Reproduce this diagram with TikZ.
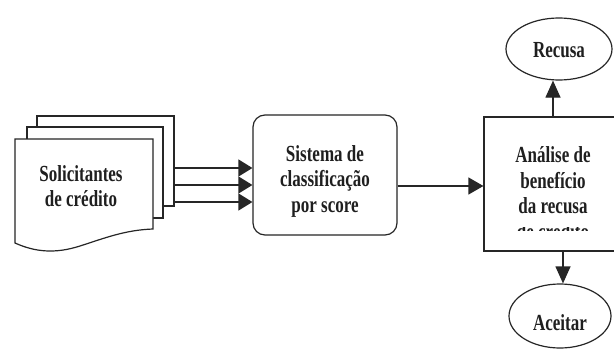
\documentclass[tikz,border=0pt]{standalone}
\usepackage{fontspec}
\setmainfont{Liberation Serif}
\newfontfamily\lab{Liberation Serif}[FakeStretch=0.74]
\usetikzlibrary{arrows.meta,shapes.geometric}
\tikzset{
  ln/.style={draw=black!85, line width=1.2pt},
  arrA/.style={ln, -{Triangle[length=14pt,width=17pt]}},
  arrB/.style={ln, -{Triangle[length=15pt,width=17pt]}},
  arrV/.style={ln, -{Triangle[length=17pt,width=15pt]}},
  lbl/.style={font=\lab\bfseries\fontsize{23}{25.5}\selectfont, align=center, text=black!88, inner sep=0pt},
  docbox/.style={ln, fill=white, inner sep=0pt, outer sep=0pt},
}
\begin{document}
\begin{tikzpicture}[x=1pt,y=-1pt]
\path[use as bounding box, fill=white] (0,0) rectangle (614,351);
\clip (0,0) rectangle (614,351);

% stacked documents
\node[docbox, minimum width=137pt, minimum height=90pt] (back) at (105.5,161) {};
\node[docbox, minimum width=136pt, minimum height=91pt] (mid) at (95,172.5) {};
\draw[ln, fill=white] (153,229) -- (153,139) -- (15,139) -- (15,243)
  .. controls (35,252) and (55,254) .. (80,246)
  .. controls (105,238) and (125,230) .. (153,229) -- cycle;
\node[lbl] (sol) at (81,186) {Solicitantes\\de crédito};

% scoring system
\node[ln, rounded corners=12pt, minimum width=144pt, minimum height=120pt, fill=white] (sist) at (325,175) {};
\node[lbl] (sistt) at (325,181) {Sistema de\\classificação\\por score};

\coordinate (y1) at (0,168);
\coordinate (y2) at (0,185);
\coordinate (y3) at (0,202);
\draw[arrA] (back.east |- y1) -- (sist.west |- y1);
\draw[arrA] (back.east |- y2) -- (sist.west |- y2);
\draw[arrA] (back.east |- y3) -- (sist.west |- y3);

% analysis box
\node[ln, minimum width=160pt, minimum height=134pt, inner sep=0pt] (anal) at (564,184) {};
\node[lbl] (analt) at (553,180.5) {Análise de\\benefício\\da recusa};
\begin{scope}
  \clip (484,227) rectangle (614,230.5);
  \node[lbl] (analc) at (553,231.5) {de crédito};
\end{scope}

\coordinate (y4) at (0,186);
\draw[arrB] (sist.east |- y4) -- (anal.west |- y4);

% outcomes
\node[ln, ellipse, minimum width=106pt, minimum height=62pt, inner sep=0pt] (rec) at (559,49) {};
\node[lbl] (rect) at (559,50) {Recusa};
\node[ln, ellipse, minimum width=102pt, minimum height=64pt, inner sep=0pt] (acc) at (560,316) {};
\node[lbl] (acct) at (560,323) {Aceitar};

\coordinate (ux) at (553,0);
\coordinate (dx) at (563,0);
\draw[arrV] (ux |- anal.north) -- (ux |- rec.south);
\draw[arrV] (dx |- anal.south) -- (dx |- acc.north);
\end{tikzpicture}
\end{document}
